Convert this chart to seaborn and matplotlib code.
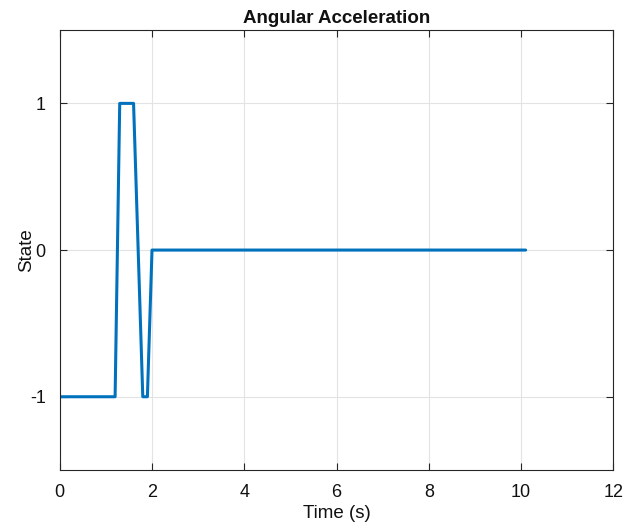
import pandas as pd
import seaborn as sns
import matplotlib
matplotlib.use('Agg')
import matplotlib.pyplot as plt

# Данные: время и состояние (углового ускорения)
time_s = [0.0, 1.2, 1.3, 1.6, 1.8, 1.9, 2.0, 10.1]
state = [-1, -1, 1, 1, -1, -1, 0, 0]

df = pd.DataFrame({'time': time_s, 'state': state})

sns.set_style("whitegrid")
plt.rcParams['font.family'] = ['Liberation Sans', 'DejaVu Sans']
plt.rcParams['axes.unicode_minus'] = False
plt.rcParams['text.color'] = '#111111'
plt.rcParams['axes.labelcolor'] = '#111111'

fig = plt.figure(figsize=(6.29, 5.27), dpi=100)
ax = fig.add_axes([0.095, 0.108, 0.88, 0.835])

sns.lineplot(data=df, x='time', y='state', color='#0072BD', linewidth=2.2,
             sort=False, estimator=None, ax=ax)

ax.set_xlim(0, 12)
ax.set_ylim(-1.5, 1.5)
ax.set_xticks(range(0, 13, 2))
ax.set_yticks([-1, 0, 1])
ax.grid(True, color='#e3e3e3', linewidth=0.8)
for s in ax.spines.values():
    s.set_visible(True)
    s.set_color('#262626')
    s.set_linewidth(0.8)
ax.tick_params(direction='in', length=5, width=0.8, colors='#262626',
               labelcolor='#111111', labelsize=13, pad=10,
               bottom=True, left=True, top=True, right=True)

ax.set_title('Angular Acceleration', fontsize=13.5, fontweight='bold', pad=5)
ax.set_xlabel('Time (s)', fontsize=13.5, labelpad=3)
ax.set_ylabel('State', fontsize=13.5, labelpad=-4)

fig.savefig('out.png', dpi=100)
